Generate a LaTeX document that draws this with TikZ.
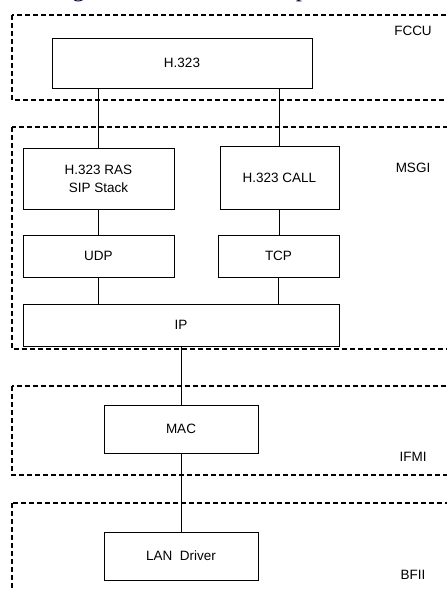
\documentclass[tikz,border=0pt]{standalone}
\usepackage{fontspec}
\setmainfont{Liberation Sans}
\newfontfamily\serifx{Liberation Serif}
\begin{document}
\begin{tikzpicture}[x=1pt,y=-1pt,
  box/.style={draw=black, line width=0.9pt, inner sep=0pt, outer sep=0pt, align=center, font=\fontsize{13.5}{18}\selectfont},
  frame/.style={draw=black, line width=1.6pt, dash pattern=on 5pt off 3pt},
  lbl/.style={font=\fontsize{13.5}{15}\selectfont, inner sep=0pt},
  conn/.style={draw=black, line width=0.9pt}]
\useasboundingbox (0,0) rectangle (447,590);
\clip (0,0) rectangle (447,590);
\fill[white] (0,0) rectangle (447,590);
% cropped heading line (only its lower part is visible)
\node[anchor=base west, inner sep=0pt, outer sep=0pt, font=\serifx\fontsize{25}{28}\selectfont, text=black!85!blue] (head) at (12,-4) {The figure below shows the protocol stack};
% frames
\draw[frame] (12,15) rectangle (460,100);
\draw[frame] (12,127) rectangle (460,349);
\draw[frame] (12,386) rectangle (460,475);
\draw[frame] (12,503) rectangle (460,610);
\node[lbl] (fccu) at (413,31) {FCCU};
\node[lbl] (msgi) at (413,168) {MSGI};
\node[lbl] (ifmi) at (413,457) {IFMI};
\node[lbl] (bfii) at (413,575) {BFII};
% boxes
\node[box, minimum width=260pt, minimum height=50pt] (h323) at (182,63) {H.323};
\node[box, minimum width=151pt, minimum height=61pt] (ras) at (98.5,178.5) {H.323 RAS\\SIP Stack};
\node[box, minimum width=119pt, minimum height=63pt] (call) at (279.5,177.5) {H.323 CALL};
\node[box, minimum width=151pt, minimum height=42pt] (udp) at (98.5,256) {UDP};
\node[box, minimum width=121pt, minimum height=42pt] (tcp) at (278.5,256) {TCP};
\node[box, minimum width=316pt, minimum height=42pt] (ip) at (181,325) {IP};
\node[box, minimum width=154pt, minimum height=48pt] (mac) at (181,429) {MAC};
\node[box, minimum width=154pt, minimum height=48pt] (lan) at (181,556) {LAN\ \ Driver};
% connectors
\draw[conn] (ras.north) -- (ras.north |- h323.south);
\draw[conn] (call.north) -- (call.north |- h323.south);
\draw[conn] (ras.south) -- (udp.north);
\draw[conn] (call.south) -- (call.south |- tcp.north);
\draw[conn] (udp.south) -- (udp.south |- ip.north);
\draw[conn] (tcp.south) -- (tcp.south |- ip.north);
\draw[conn] (ip.south) -- (mac.north);
\draw[conn] (mac.south) -- (lan.north);
\end{tikzpicture}
\end{document}
